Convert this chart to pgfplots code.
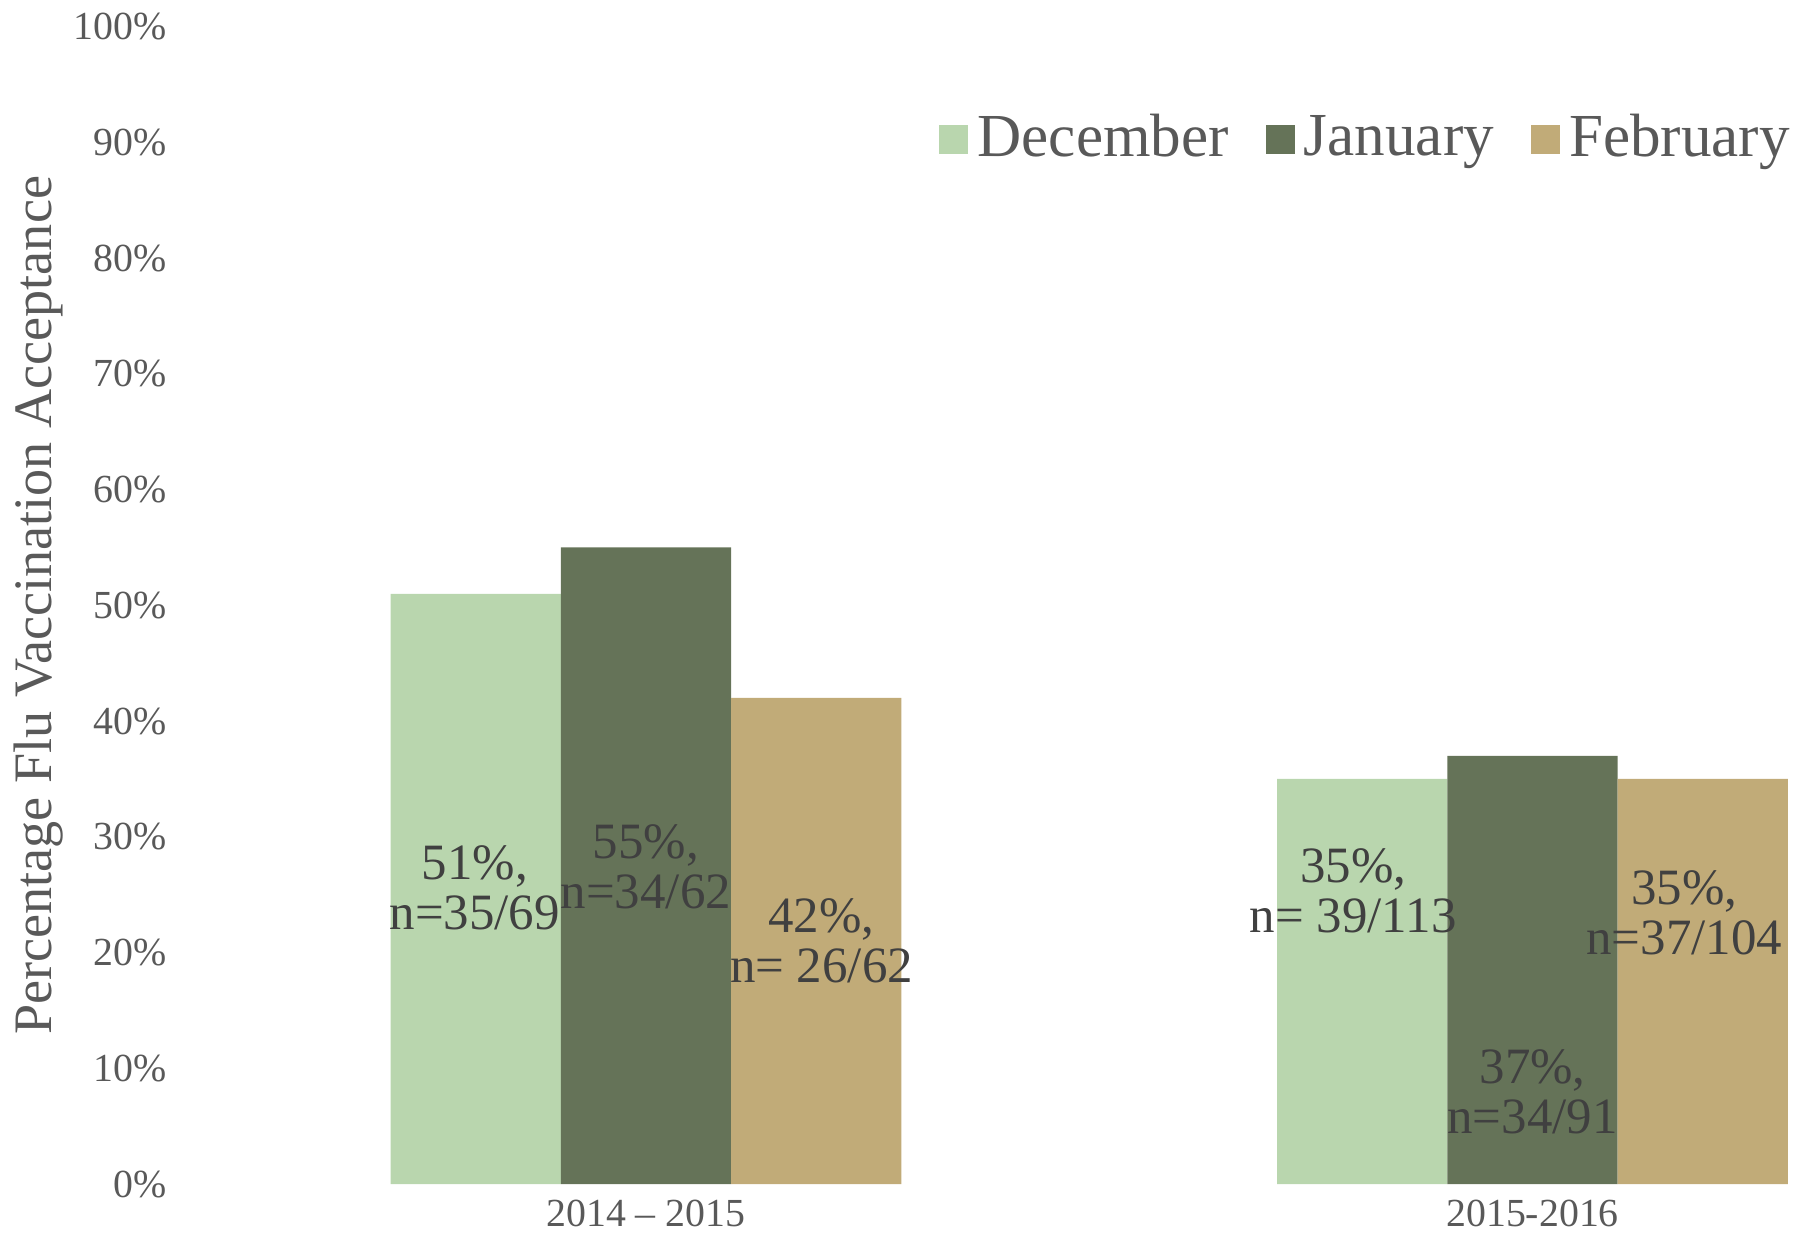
\documentclass[border=0pt]{standalone}
\usepackage{pgfplots}
\pgfplotsset{compat=1.18}
\usepackage{fontspec}
\setmainfont{Liberation Serif}
\definecolor{cdec}{HTML}{B9D6AE}
\definecolor{cjan}{HTML}{657358}
\definecolor{cfeb}{HTML}{C1AB78}
\definecolor{txtgray}{HTML}{595959}
\definecolor{lblgray}{HTML}{404040}
\begin{document}
\begin{tikzpicture}
\begin{axis}[
  name=main,
  scale only axis,
  width=348.25pt, height=250pt,
  xmin=-0.5, xmax=1.3185,
  ymin=0, ymax=100,
  ybar, bar width=0.192,
  xtick={0,1},
  xticklabels={2014 -- 2015, 2015-2016},
  ytick={0,10,...,100},
  yticklabel={\pgfmathprintnumber{\tick}\%},
  /pgf/number format/assume math mode=true,
  axis line style={draw=none},
  major tick length=0pt,
  tick style={draw=none},
  ticklabel style={font=\fontsize{8.6}{9}\selectfont, text=txtgray},
  yticklabel style={xshift=-4.2pt},
  xticklabel style={yshift=0pt},
  ylabel={Percentage Flu Vaccination Acceptance},
  ylabel style={font=\fontsize{11.7}{12}\selectfont, text=txtgray, at={(rel axis cs:0,0.5)}, anchor=center, yshift=35.5pt},
  legend columns=3,
  legend style={draw=none, fill=none, at={(rel axis cs:0.4478,0.903)}, anchor=west,
    font=\fontsize{13.2}{14}\selectfont, text=txtgray,
    /tikz/every even column/.append style={column sep=6pt}},
  legend image code/.code={\fill[#1] (-2.5pt,-3.3pt) rectangle (3.75pt,2.95pt);},
  legend cell align=left,
]
\addplot[fill=cdec, draw=none, bar shift=-0.192] coordinates {(0,51) (1,35)};
\addplot[fill=cjan, draw=none, bar shift=0] coordinates {(0,55) (1,37)};
\addplot[fill=cfeb, draw=none, bar shift=0.192] coordinates {(0,42) (1,35)};
\legend{December, January, February}
\begin{scope}[every node/.style={font=\fontsize{11}{10.8}\selectfont, text=lblgray, align=center}]
\node at (axis cs:-0.193,25.6) {51\%,\\n=35/69};
\node at (axis cs:0.0,27.4) {55\%,\\n=34/62};
\node at (axis cs:0.198,21) {42\%,\\n= 26/62};
\node at (axis cs:0.7977,25.3) {35\%,\\n= 39/113};
\node at (axis cs:1.0,8.0) {37\%,\\n=34/91};
\node at (axis cs:1.171,23.4) {35\%,\\n=37/104};
\end{scope}
\end{axis}
\pgfresetboundingbox
\path[use as bounding box] ([xshift=-43.75pt,yshift=-10.75pt]main.south west) rectangle ([yshift=5.75pt]main.north east);
\end{tikzpicture}
\end{document}
